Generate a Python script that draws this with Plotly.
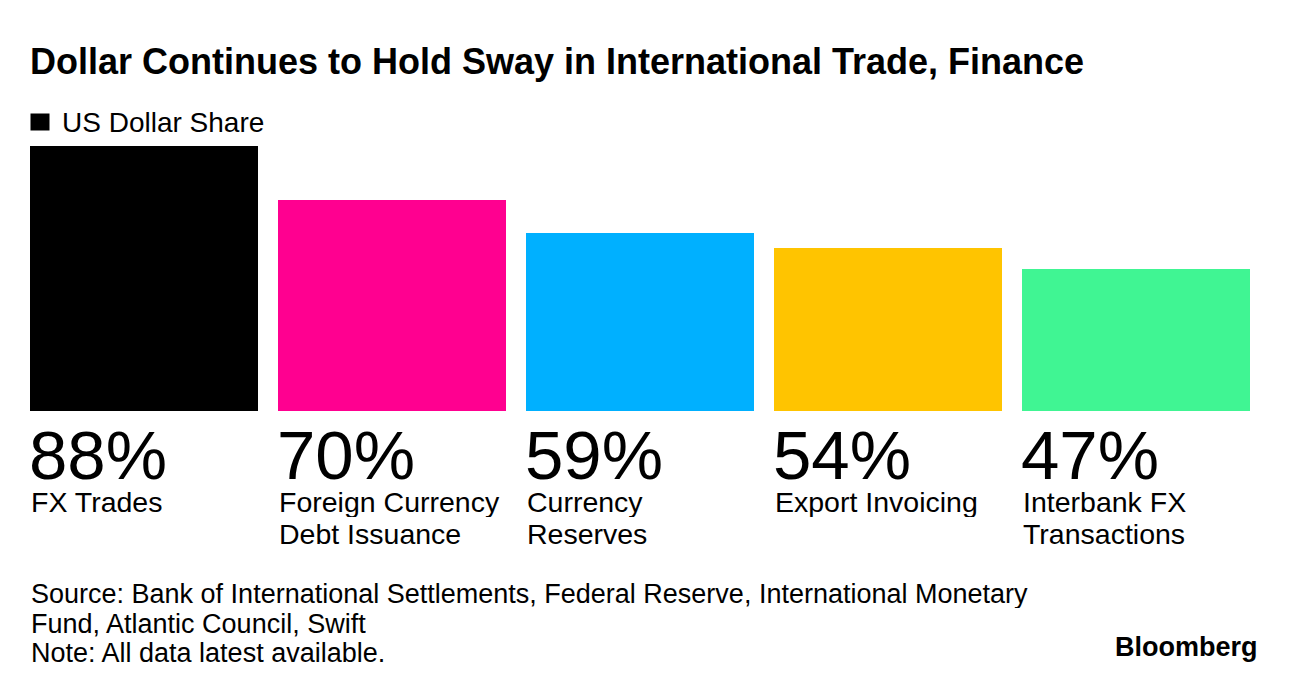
import plotly.graph_objects as go

categories = ["FX Trades", "Foreign Currency Debt Issuance", "Currency Reserves",
              "Export Invoicing", "Interbank FX Transactions"]
label_line1 = ["FX Trades", "Foreign Currency", "Currency", "Export Invoicing", "Interbank FX"]
label_line2 = ["", "Debt Issuance", "Reserves", "", "Transactions"]
values = [88, 70, 59, 54, 47]
colors = ["#000000", "#ff0090", "#00b0ff", "#ffc400", "#40f593"]
series_name = "US Dollar Share"
title = "Dollar Continues to Hold Sway in International Trade, Finance"
source_lines = [
    "Source: Bank of International Settlements, Federal Reserve, International Monetary",
    "Fund, Atlantic Council, Swift",
    "Note: All data latest available.",
]

FONT = "Liberation Sans"
BAR_W = 0.92
xs = list(range(len(values)))

fig = go.Figure()
fig.add_trace(go.Bar(
    x=xs, y=values, width=BAR_W,
    marker=dict(color=colors, line=dict(width=0)),
    name=series_name, showlegend=False, hoverinfo="skip",
))

ann = []
for i, v in enumerate(values):
    left = xs[i] - BAR_W / 2
    ann.append(dict(x=left, xref="x", y=-0.166, yref="paper", text=f"{v}%",
                    showarrow=False, xanchor="left", yanchor="middle", xshift=-3,
                    height=58, valign="middle",
                    font=dict(family=FONT, size=69, color="#000")))
    ann.append(dict(x=left, xref="x", y=-0.343, yref="paper", text=label_line1[i],
                    showarrow=False, xanchor="left", yanchor="middle", xshift=-1,
                    height=31, valign="middle",
                    font=dict(family=FONT, size=28.5, color="#000")))
    if label_line2[i]:
        ann.append(dict(x=left, xref="x", y=-0.464, yref="paper", text=label_line2[i],
                        showarrow=False, xanchor="left", yanchor="middle", xshift=-1,
                        height=31, valign="middle",
                        font=dict(family=FONT, size=28.5, color="#000")))

for j, line in enumerate(source_lines):
    ann.append(dict(x=0, xref="paper", y=-0.687 - 0.113 * j, yref="paper", text=line,
                    showarrow=False, xanchor="left", yanchor="middle", xshift=-1,
                    height=29, valign="middle",
                    font=dict(family=FONT, size=27, color="#000")))
ann.append(dict(x=1.0057, xref="paper", y=-0.89, yref="paper", text="<b>Bloomberg</b>",
                showarrow=False, xanchor="right", yanchor="middle", xshift=3,
                font=dict(family=FONT, size=27, color="#000")))
ann.append(dict(x=0, xref="paper", y=1.317, yref="paper", text=f"<b>{title}</b>",
                showarrow=False, xanchor="left", yanchor="middle", xshift=-2,
                font=dict(family=FONT, size=36, color="#000")))
# legend
ann.append(dict(x=0.0082, xref="paper", y=1.0887, yref="paper", text=" ",
                showarrow=False, xanchor="center", yanchor="middle",
                width=18, height=16, bgcolor=colors[0], borderpad=0,
                font=dict(family=FONT, size=10)))
ann.append(dict(x=0.0262, xref="paper", y=1.0887, yref="paper", text=series_name,
                showarrow=False, xanchor="left", yanchor="middle", xshift=-2,
                font=dict(family=FONT, size=28, color="#000")))

fig.update_layout(
    width=1280, height=676,
    margin=dict(l=22, r=38, t=138, b=273),
    paper_bgcolor="white", plot_bgcolor="white",
    xaxis=dict(range=[-BAR_W / 2, len(values) - 1 + BAR_W / 2], visible=False, fixedrange=True),
    yaxis=dict(range=[0, 88], visible=False, fixedrange=True),
    showlegend=False,
    annotations=ann,
    bargap=0,
)

fig.write_html("out.html", config={"displayModeBar": False})
